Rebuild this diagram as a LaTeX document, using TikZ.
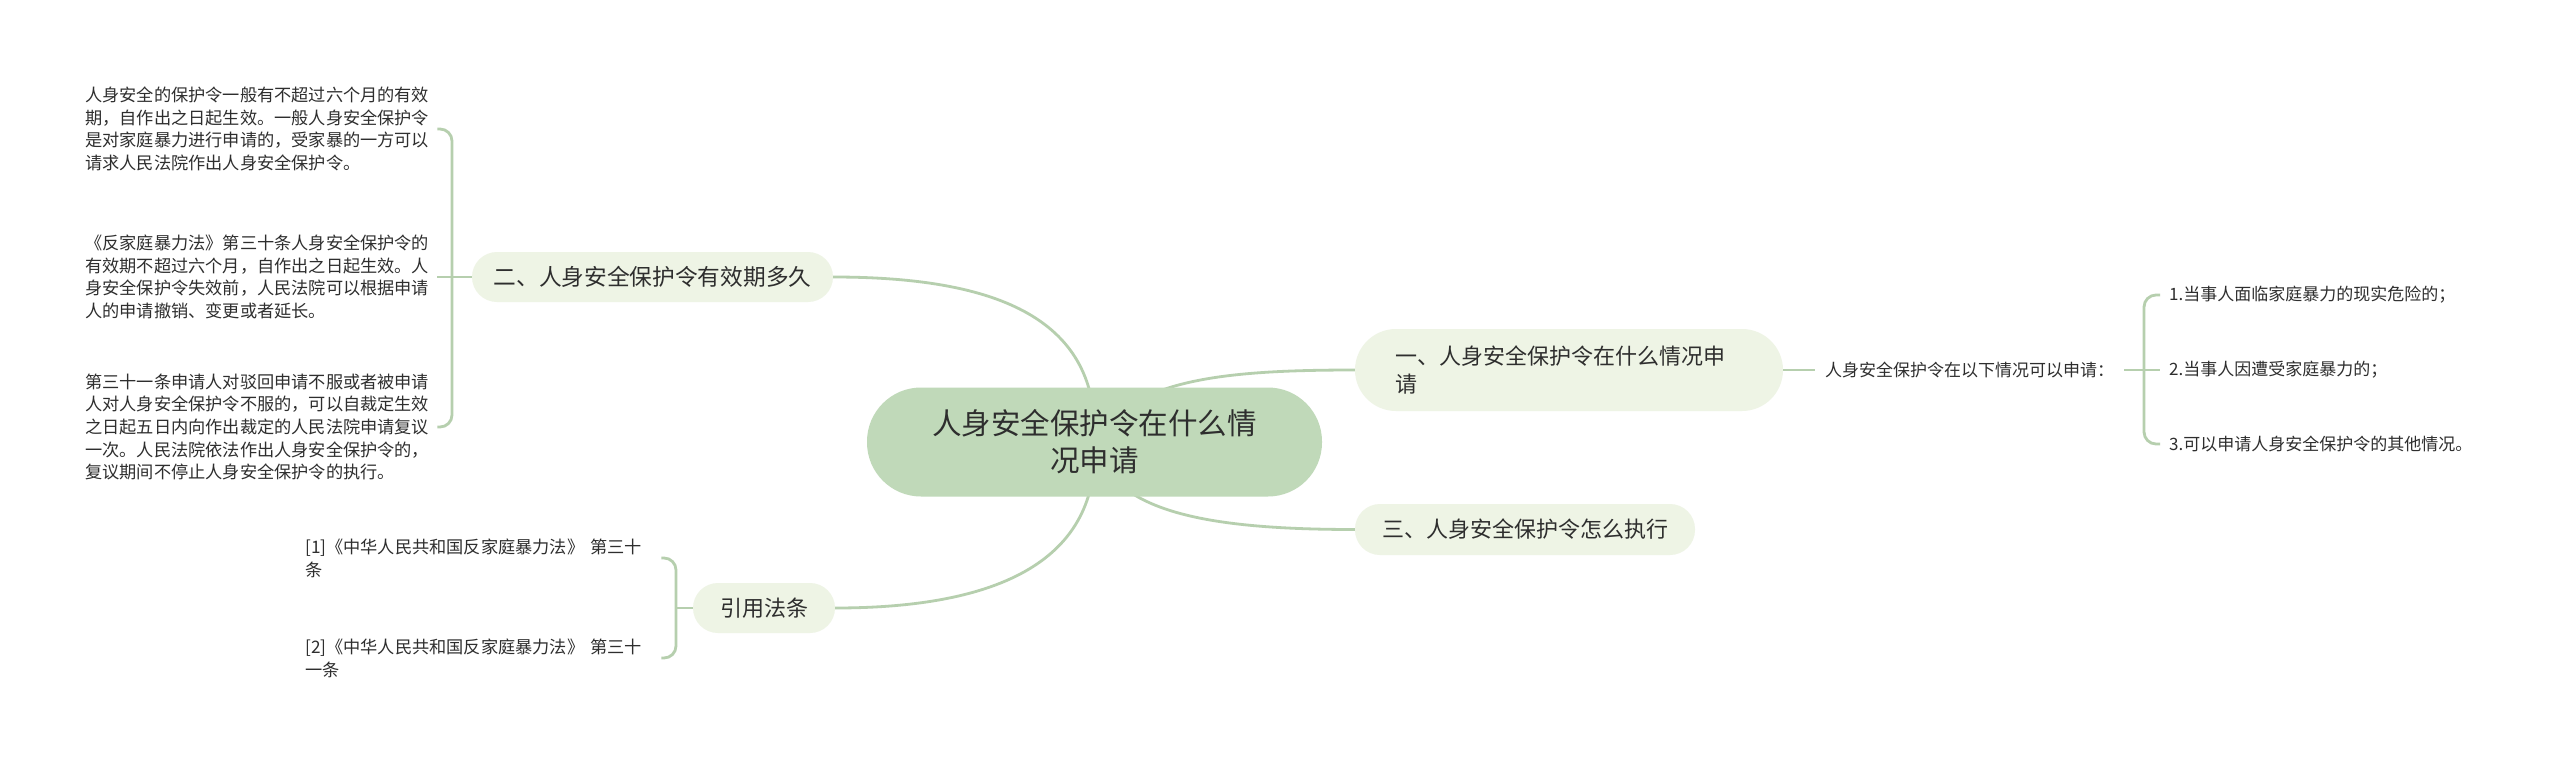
\documentclass[tikz,border=0pt]{standalone}
\usepackage{fontspec}
\setmainfont{Noto Sans CJK SC}
\usetikzlibrary{backgrounds}
\definecolor{rootfill}{HTML}{C0D9B9}
\definecolor{subfill}{HTML}{EEF4E5}
\definecolor{linkc}{HTML}{B6CFAE}
\definecolor{txt}{HTML}{2E2E2E}
\begin{document}
\begin{tikzpicture}[x=1pt,y=-1pt,
  rootbox/.style={fill=rootfill, rounded corners=54pt, minimum width=455pt, minimum height=109pt, inner sep=0pt, align=center, text=txt, font=\fontsize{29.5pt}{37pt}\selectfont},
  subbox/.style={fill=subfill, rounded corners=25pt, minimum height=50pt, inner sep=0pt, text=txt, font=\fontsize{22pt}{28pt}\selectfont},
  leaf/.style={text=txt, inner xsep=4pt, inner ysep=0pt, align=left, font=\fontsize{17.2pt}{22.7pt}\selectfont},
  link/.style={draw=linkc, line width=2.8pt},
  brace/.style={draw=linkc, line width=2.8pt, rounded corners=12pt}]
\useasboundingbox (0,0) rectangle (2560,763);

% root and main branches
\node[rootbox] (root) at (1094.5,442) {人身安全保护令在什么情\\况申请};
\node[subbox, minimum width=361pt, font=\fontsize{22.7pt}{28pt}\selectfont] (n2) at (652.5,277) {二、人身安全保护令有效期多久};
\node[subbox, minimum height=82pt, rounded corners=41pt, text width=348pt, inner xsep=40pt, align=left] (n1) at (1569,370) {一、人身安全保护令在什么情况申\\请};
\node[subbox, minimum width=340pt, minimum height=51pt] (n3) at (1525,529.5) {三、人身安全保护令怎么执行};
\node[subbox, minimum width=142pt] (n4) at (764,608) {引用法条};

% right side
\node[leaf, inner xsep=10pt, anchor=west, font=\fontsize{17pt}{22pt}\selectfont] (n1a) at (1815,370) {人身安全保护令在以下情况可以申请：};
\node[leaf, inner xsep=9pt, anchor=west, font=\fontsize{17pt}{22pt}\selectfont] (r1) at (2160,295) {1.当事人面临家庭暴力的现实危险的；};
\node[leaf, inner xsep=9pt, anchor=west, font=\fontsize{17pt}{22pt}\selectfont] (r2) at (2160,370) {2.当事人因遭受家庭暴力的；};
\node[leaf, inner xsep=9pt, anchor=west, font=\fontsize{17pt}{22pt}\selectfont] (r3) at (2160,444) {3.可以申请人身安全保护令的其他情况。};

% left blocks
\node[leaf, text width=348pt, anchor=west] (b1) at (81,129) {人身安全的保护令一般有不超过六个月的有效\\期，自作出之日起生效。一般人身安全保护令\\是对家庭暴力进行申请的，受家暴的一方可以\\请求人民法院作出人身安全保护令。};
\node[leaf, text width=348pt, anchor=west] (b2) at (81,277) {《反家庭暴力法》第三十条人身安全保护令的\\有效期不超过六个月，自作出之日起生效。人\\身安全保护令失效前，人民法院可以根据申请\\人的申请撤销、变更或者延长。};
\node[leaf, text width=348pt, anchor=west] (b3) at (81,427) {第三十一条申请人对驳回申请不服或者被申请\\人对人身安全保护令不服的，可以自裁定生效\\之日起五日内向作出裁定的人民法院申请复议\\一次。人民法院依法作出人身安全保护令的，\\复议期间不停止人身安全保护令的执行。};

% references
\node[leaf, text width=352pt, anchor=west] (f1) at (301,558) {[1]《中华人民共和国反家庭暴力法》 第三十\\条};
\node[leaf, text width=352pt, anchor=west] (f2) at (301,658) {[2]《中华人民共和国反家庭暴力法》 第三十\\一条};

\coordinate (lb) at (452,277);
\coordinate (rb) at (2144,370);
\coordinate (fb) at (676,608);

\begin{pgfonlayer}{background}
\fill[white] (0,0) rectangle (2560,763);
\draw[link] (root.center) .. controls (1100,320) and (1000,277) .. (n2.east);
\draw[link] (root.center) .. controls (1130,380) and (1220,370) .. (n1.west);
\draw[link] (root.center) .. controls (1110,510) and (1200,529.5) .. (n3.west);
\draw[link] (root.center) .. controls (1100,560) and (1000,608) .. (n4.east);
\end{pgfonlayer}

\draw[link] (n1.east) -- (n1a.west);
\draw[link] (n1a.east) -- (r2.west);
\draw[brace] (r1.west) -| (rb) |- (r3.west);

\draw[brace] (b1.east) -| (lb) |- (b3.east);
\draw[link] (b2.east) -- (n2.west);

\draw[brace] (f1.east) -| (fb) |- (f2.east);
\draw[link] (fb) -- (n4.west);
\end{tikzpicture}
\end{document}
